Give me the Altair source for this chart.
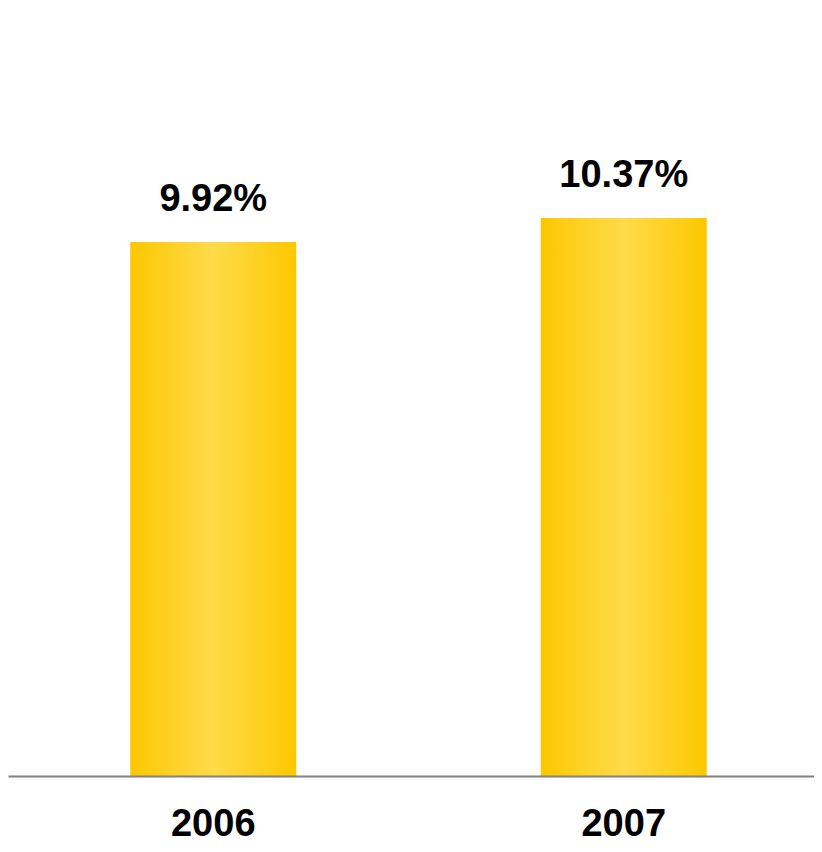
import altair as alt
import pandas as pd

years = ["2006", "2007"]
rates = [9.92, 10.37]
labels = ["9.92%", "10.37%"]

df = pd.DataFrame({"year": years, "rate": rates, "label": labels})

gradient = alt.Gradient(
    gradient="linear",
    stops=[
        alt.GradientStop(color="#FDC700", offset=0),
        alt.GradientStop(color="#FFDB4A", offset=0.5),
        alt.GradientStop(color="#FDC700", offset=1),
    ],
    x1=0, x2=1, y1=0, y2=0,
)

x = alt.X(
    "year:N",
    sort=years,
    scale=alt.Scale(paddingInner=0, paddingOuter=0, range=[0, 821]),
    axis=alt.Axis(
        title=None, labelAngle=0, ticks=False, labelPadding=29,
        labelFont="Liberation Sans", labelFontSize=38, labelFontWeight="bold",
        labelColor="#000000", domainColor="#808080", domainWidth=2, zindex=1,
        grid=False,
    ),
)
y = alt.Y("rate:Q", scale=alt.Scale(domain=[0, 14.27], nice=False, zero=True), axis=None)

base = alt.Chart(df).encode(x=x, y=y)
bars = base.mark_bar(size=166, color=gradient)
text = base.mark_text(
    font="Liberation Sans", fontSize=38, fontWeight="bold", color="#000000",
    dy=-31, baseline="alphabetic", align="center",
).encode(text="label:N")

chart = (
    alt.layer(bars, text)
    .properties(
        width=806, height=768,
        padding={"left": 0, "top": 0, "right": 0, "bottom": 68},
        autosize="none", background="white",
    )
    .configure_view(stroke=None)
)

chart.save("out.html", embed_options={"renderer": "svg", "actions": False})
